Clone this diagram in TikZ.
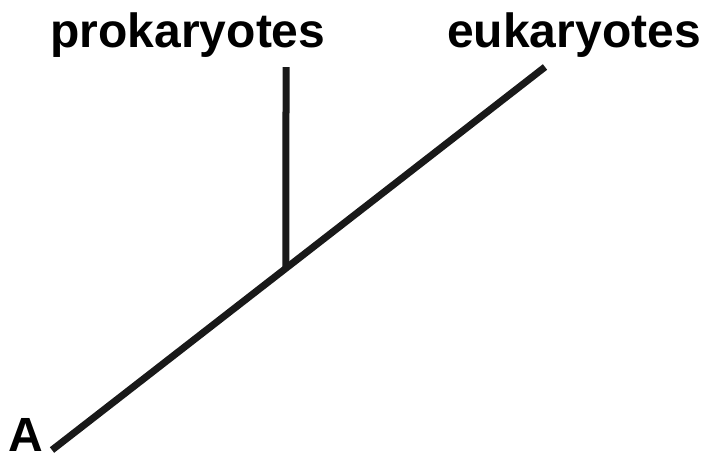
\documentclass[tikz,border=0pt]{standalone}
\usepackage{fontspec}
\setmainfont{Liberation Sans}
\usepackage{tikz}
\usetikzlibrary{calc,positioning}

\begin{document}
\begin{tikzpicture}[x=1pt, y=-1pt,
      taxon/.style={inner sep=0pt, anchor=base, font=\fontsize{48}{56}\selectfont\bfseries},
      branch/.style={line width=7pt, color=black!90}
    ]
      \useasboundingbox (0,0) rectangle (708,459);

      % Ends of the tree
      \coordinate (root) at (52,450);
      \coordinate (eukTip) at (545,67);
      \coordinate (prokTip) at (286,67);
      \coordinate (fork) at ($(root)!0.4746!(eukTip)$);

      % Labels
      \node[taxon] (prok) at (188,47) {prokaryotes};
      \node[taxon] (euk) at (574,47) {eukaryotes};
      \node[taxon] (rootlabel) at (26,451) {A};

      % Branches
      \draw[branch] (root) -- (eukTip);
      \draw[branch] (prokTip) -- (fork);
    \end{tikzpicture}
\end{document}
